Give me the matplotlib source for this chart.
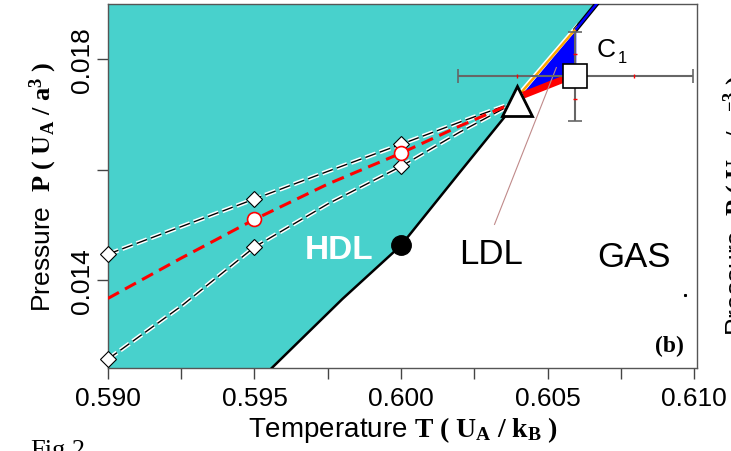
import matplotlib
matplotlib.use('Agg')
import matplotlib.pyplot as plt
import numpy as np

plt.rcParams['font.family'] = ['Liberation Sans', 'DejaVu Sans']
plt.rcParams['mathtext.fontset'] = 'custom'
plt.rcParams['mathtext.rm'] = 'Liberation Serif'
plt.rcParams['mathtext.bf'] = 'Liberation Serif:bold'
plt.rcParams['mathtext.it'] = 'Liberation Serif:italic'
plt.rcParams['lines.scale_dashes'] = False

# coexistence line HDL / LDL (black) up to the triangle
coex_T = [0.59559, 0.5980, 0.6000, 0.6020, 0.60397]
coex_P = [0.01241, 0.01366, 0.01463, 0.01595, 0.01724]
# orange part above the triangle, then the blue part up to the top
orange_T = [0.60414, 0.60601]
orange_P = [0.01742, 0.01858]
blue_T = [0.60598, 0.60670]
blue_P = [0.01855, 0.01902]
# blue metastable region
reg_T = [0.60417, 0.60598, 0.60598, 0.60560, 0.60560]
reg_P = [0.017385, 0.018525, 0.017891, 0.017891, 0.017638]
red_T = [0.60417, 0.60560]
red_P = [0.01735, 0.01765]

# dashed curves (upper, middle, lower)
curve_T = [0.590, 0.5925, 0.595, 0.5975, 0.600, 0.602, 0.60397]
upper_P = [0.01447, 0.01497, 0.01547, 0.01597, 0.01646, 0.01686, 0.01724]
mid_P = [0.01367, 0.01440, 0.01510, 0.01574, 0.01630, 0.01679, 0.01724]
lower_P = [0.01257, 0.01353, 0.01460, 0.01538, 0.01606, 0.01668, 0.01724]
pts_T = [0.590, 0.595, 0.600]
upper_pts = [0.01447, 0.01547, 0.01646]
lower_pts = [0.01257, 0.01460, 0.01606]
mid_pts_T = [0.595, 0.600]
mid_pts = [0.01510, 0.01630]

# special points
dot_T, dot_P = 0.600, 0.01463
tri_T, tri_P = 0.60397, 0.01724
c1_T, c1_P = 0.60595, 0.01769
c1_Terr, c1_Perr = 0.0040, 0.00081
arrow_T = [0.60319, 0.60530]
arrow_P = [0.01501, 0.01785]

xlim = (0.590, 0.6101)
ylim = (0.01241, 0.01900)
cyan = '#48D1CC'

fig = plt.figure(figsize=(7.31, 4.52), dpi=100)
ax = fig.add_axes([0.1477, 0.1836, 0.8058, 0.8053])

# cyan HDL region
poly_T = [xlim[0]] + coex_T + orange_T + [blue_T[-1], xlim[0]]
poly_P = [ylim[0]] + coex_P + orange_P + [blue_P[-1], blue_P[-1]]
ax.fill(poly_T, poly_P, color=cyan, lw=0, zorder=1)

ax.plot(coex_T, coex_P, color='black', lw=1.8, zorder=3)
ax.plot(orange_T, orange_P, color='white', lw=4, zorder=3)
ax.plot(orange_T, orange_P, color='orange', lw=1.8, zorder=4)
ax.plot(blue_T, blue_P, color='black', lw=3.5, zorder=3)
ax.plot(blue_T, blue_P, color='blue', lw=1.8, zorder=4)
ax.fill(reg_T, reg_P, color='blue', lw=0, zorder=3)
ax.plot(red_T, red_P, color='red', lw=5, solid_capstyle='butt', zorder=4)

# dashed curves with white halo
for P in [upper_P, lower_P]:
    ax.plot(curve_T, P, color='white', lw=3.2, dashes=(8, 3), zorder=5, clip_on=False)
    ax.plot(curve_T, P, color='black', lw=1.0, dashes=(8, 3), zorder=6, clip_on=False)
ax.plot(curve_T, mid_P, color='red', lw=2.2, dashes=(9, 5), zorder=6)

ax.plot(pts_T, upper_pts, 'D', ms=8, mfc='white', mec='black', mew=0.8, zorder=7, clip_on=False)
ax.plot(pts_T, lower_pts, 'D', ms=8, mfc='white', mec='black', mew=0.8, zorder=7, clip_on=False)
ax.plot(mid_pts_T, mid_pts, 'o', ms=10, mfc='white', mec='red', mew=1.2, zorder=8)

ax.plot(arrow_T, arrow_P, color='#c08a8a', lw=0.8, zorder=6)

ax.plot(dot_T, dot_P, 'o', ms=14, color='black', zorder=8)
ax.plot(tri_T, tri_P, '^', ms=22, mfc='white', mec='black', mew=2, zorder=9)

ax.errorbar(c1_T, c1_P, xerr=c1_Terr, yerr=c1_Perr, fmt='s', ms=17,
            mfc='white', mec='black', mew=1.2, ecolor='#666666', elinewidth=1.5,
            capsize=5, capthick=1.5, zorder=9)
ax.plot([c1_T - c1_Terr / 2, c1_T + c1_Terr / 2], [c1_P, c1_P], '|', color='red', ms=3, zorder=10)
ax.plot([c1_T, c1_T], [c1_P - c1_Perr / 2, c1_P + c1_Perr / 2], '_', color='red', ms=3, zorder=10)
ax.plot(0.60969, 0.01373, 's', ms=1.2, color='black')

ax.text(0.5979, 0.01456, 'HDL', color='white', fontsize=24, fontweight='bold',
        ha='center', va='center', zorder=10)
ax.text(0.60308, 0.01449, 'LDL', fontsize=25, ha='center', va='center', zorder=10)
ax.text(0.60796, 0.01443, 'GAS', fontsize=25, ha='center', va='center', zorder=10)
ax.text(0.60700, 0.01818, 'C', fontsize=19, ha='center', va='center', zorder=10)
ax.text(0.60756, 0.01803, '1', fontsize=12, ha='center', va='center', zorder=10)
ax.text(0.60915, 0.01282, '(b)', fontsize=17, fontweight='bold', family='Liberation Serif',
        ha='center', va='center', zorder=10)

ax.set_xlim(xlim)
ax.set_ylim(ylim)
ax.set_xticks([0.590, 0.595, 0.600, 0.605, 0.610])
ax.set_xticklabels(['0.590', '0.595', '0.600', '0.605', '0.610'])
ax.set_xticks([0.5925, 0.5975, 0.6025, 0.6075], minor=True)
ax.set_yticks([0.014, 0.016, 0.018])
ax.set_yticklabels(['0.014', '', '0.018'], rotation=90, va='center')
ax.tick_params(axis='both', which='both', length=8, width=1, color='#444444',
               labelsize=19, pad=5)
ax.tick_params(axis='y', pad=2)
for s in ax.spines.values():
    s.set_color('#555555')
    s.set_linewidth(1)

ax.set_xlabel(r'Temperature $\mathbf{T\ (\ U_A\ /\ k_B\ )}$', fontsize=20, labelpad=3)
ax.set_ylabel(r'Pressure  $\mathbf{P\ (\ U_A\ /\ a^3\ )}$', fontsize=19, labelpad=8)

fig.text(0.041, -0.012, 'Fig.2', fontsize=19, family='Liberation Serif', va='baseline')
fig.text(0.987, 0.257, r'Pressure  $\mathbf{P\ (\ U_A\ /\ a^{-3}\ )}$', fontsize=19,
         rotation=90, ha='left', va='bottom')

fig.savefig('out.png', dpi=100)
